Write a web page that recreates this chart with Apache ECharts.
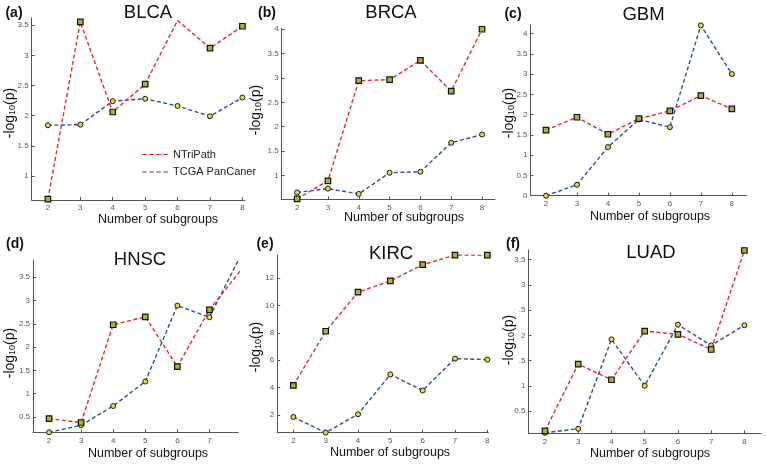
<!DOCTYPE html>
<html><head><meta charset="utf-8">
<script src="https://cdn.jsdelivr.net/npm/echarts@6/dist/echarts.min.js"></script>
<style>html,body{margin:0;padding:0;background:#fff}#c{width:766px;height:466px}</style>
</head><body><div id="c"></div>
<script>
// ---------- data ----------
const subgroups = [2, 3, 4, 5, 6, 7, 8];
const seriesNames = ['NTriPath', 'TCGA PanCaner'];
const panelNames = ['BLCA', 'BRCA', 'GBM', 'HNSC', 'KIRC', 'LUAD'];
const panelLetters = ['(a)', '(b)', '(c)', '(d)', '(e)', '(f)'];
const xAxisTitle = 'Number of subgroups';
const yAxisTitle = '-log{s|10}(p)';

const ntripathBLCA = [0.614, 3.555, 2.06, 2.523, 3.58, 3.119, 3.483];
const tcgaBLCA     = [1.84, 1.85, 2.24, 2.28, 2.16, 1.99, 2.30];
const ntripathBRCA = [0.52, 0.89, 2.945, 2.966, 3.36, 2.73, 4.0];
const tcgaBRCA     = [0.65, 0.73, 0.62, 1.055, 1.075, 1.67, 1.84];
const ntripathGBM  = [1.615, 1.935, 1.516, 1.9, 2.09, 2.47, 2.14];
const tcgaGBM      = [0.0, 0.27, 1.2, 1.88, 1.69, 4.2, 3.0];
const ntripathHNSC = [0.465, 0.38, 2.48, 2.65, 1.58, 2.8, 3.67];
const tcgaHNSC     = [0.17, 0.32, 0.735, 1.26, 2.89, 2.64, 4.0];
const ntripathKIRC = [4.16, 8.12, 10.98, 11.8, 12.99, 13.69, 13.69];
const tcgaKIRC     = [1.85, 0.71, 2.05, 4.96, 3.79, 6.12, 6.05];
const ntripathLUAD = [0.11, 1.43, 1.12, 2.085, 2.02, 1.72, 3.68];
const tcgaLUAD     = [0.07, 0.15, 1.92, 1.0, 2.21, 1.8, 2.2];

const xTicks      = [2, 3, 4, 5, 6, 7, 8];
const xTicksHNSC  = [2, 3, 4, 5, 6, 7];
const yTicksBLCA  = [1, 1.5, 2, 2.5, 3, 3.5];
const yTicksBRCA  = [1, 1.5, 2, 2.5, 3, 3.5, 4];
const yTicksGBM   = [0, 0.5, 1, 1.5, 2, 2.5, 3, 3.5, 4];
const yTicksHNSC  = [0.5, 1, 1.5, 2, 2.5, 3, 3.5];
const yTicksKIRC  = [2, 4, 6, 8, 10, 12];
const yTicksLUAD  = [0.5, 1, 1.5, 2, 2.5, 3, 3.5];
const yTickLabelsLUAD = ['0.5', '1', '.5', '2', '.5', '3', '3.5'];

// ---------- layout / axis ranges ----------
const panels = [
  {n: ntripathBLCA, t: tcgaBLCA, xt: xTicks, yt: yTicksBLCA, yl: null,
   grid: {left: 31.7, top: 18, width: 213.3, height: 182}, xr: [1.5, 8.08], yr: [0.60, 3.62],
   yName: [10, 113], xName: [158, 219.5], title: [148, 13], letter: [14, 13], hideN: [4]},
  {n: ntripathBRCA, t: tcgaBRCA, xt: xTicks, yt: yTicksBRCA, yl: null,
   grid: {left: 281.7, top: 28.3, width: 213.3, height: 171}, xr: [1.5, 8.42], yr: [0.51, 4.02],
   yName: [256, 110], xName: [404, 218], title: [391, 13], letter: [267, 13], hideN: []},
  {n: ntripathGBM, t: tcgaGBM, xt: xTicks, yt: yTicksGBM, yl: null,
   grid: {left: 530.5, top: 25, width: 216.2, height: 170.7}, xr: [1.5, 8.48], yr: [0, 4.21],
   yName: [509, 113], xName: [650, 216.5], title: [643.5, 15], letter: [513, 14], hideN: []},
  {n: ntripathHNSC, t: tcgaHNSC, xt: xTicksHNSC, yt: yTicksHNSC, yl: null,
   grid: {left: 33, top: 260, width: 205.3, height: 172.3}, xr: [1.5, 7.9], yr: [0.17, 3.87],
   yName: [10, 353], xName: [148, 453.5], title: [140, 260], letter: [15, 244], hideN: []},
  {n: ntripathKIRC, t: tcgaKIRC, xt: xTicks, yt: yTicksKIRC, yl: null,
   grid: {left: 277.2, top: 255, width: 211.1, height: 177.7}, xr: [1.5, 8.03], yr: [0.70, 13.7],
   yName: [256, 347], xName: [390, 453], title: [391, 254], letter: [265, 244], hideN: []},
  {n: ntripathLUAD, t: tcgaLUAD, xt: xTicks, yt: yTicksLUAD, yl: yTickLabelsLUAD,
   grid: {left: 528.4, top: 250, width: 232.6, height: 183.3}, xr: [1.5, 8.5], yr: [0.06, 3.69],
   yName: [509, 340], xName: [650, 453.5], title: [651, 253], letter: [513, 244], hideN: []}
];

const FONT = 'Liberation Sans, Arial, Helvetica, sans-serif';
const RED = '#e2282b', BLUE = '#2b4d9e';

const grid = [], xAxis = [], yAxis = [], series = [], graphic = [];
panels.forEach((p, i) => {
  grid.push(Object.assign({containLabel: false}, p.grid));
  xAxis.push({
    type: 'value', gridIndex: i, min: p.xr[0], max: p.xr[1],
    axisLine: {show: true, onZero: false, lineStyle: {color: '#555', width: 1}},
    axisTick: {show: true, inside: true, length: 3, lineStyle: {color: '#555'}, customValues: p.xt},
    axisLabel: {show: true, margin: 4, fontSize: 8, fontFamily: FONT, color: '#555', customValues: p.xt},
    splitLine: {show: false}
  });
  yAxis.push({
    type: 'value', gridIndex: i, min: p.yr[0], max: p.yr[1],
    axisLine: {show: true, onZero: false, lineStyle: {color: '#555', width: 1}},
    axisTick: {show: true, inside: true, length: 3, lineStyle: {color: '#555'}, customValues: p.yt},
    axisLabel: {show: true, margin: 3, fontSize: 8, fontFamily: FONT, color: '#555', customValues: p.yt,
      formatter: (v) => {
        if (!p.yl) return String(v);
        const k = p.yt.findIndex(t => Math.abs(t - v) < 1e-6);
        return k >= 0 ? p.yl[k] : String(v);
      }},
    splitLine: {show: false}
  });
  series.push({
    type: 'line', name: seriesNames[1], xAxisIndex: i, yAxisIndex: i,
    data: subgroups.map((x, k) => [x, p.t[k]]),
    symbol: 'circle', symbolSize: 5, clip: true, z: 2,
    lineStyle: {color: BLUE, width: 1.4, type: [4, 2.5]},
    itemStyle: {color: '#e4d84a', borderColor: '#1a1a1a', borderWidth: 1},
    emphasis: {disabled: true}
  });
  series.push({
    type: 'line', name: seriesNames[0], xAxisIndex: i, yAxisIndex: i,
    data: subgroups.map((x, k) => p.hideN.indexOf(k) >= 0 ? {value: [x, p.n[k]], symbol: 'none'} : [x, p.n[k]]),
    symbol: 'rect', symbolSize: 5.5, clip: true, z: 3,
    lineStyle: {color: RED, width: 1.4, type: [4, 2.5]},
    itemStyle: {color: '#a6b43c', borderColor: '#111', borderWidth: 1.2},
    emphasis: {disabled: true}
  });
  graphic.push({type: 'text', x: p.title[0], y: p.title[1],
    style: {text: panelNames[i], font: '18.5px ' + FONT, fill: '#111', align: 'center', verticalAlign: 'middle'}});
  graphic.push({type: 'text', x: p.letter[0], y: p.letter[1],
    style: {text: panelLetters[i], font: 'bold 14px ' + FONT, fill: '#111', align: 'center', verticalAlign: 'middle'}});
  graphic.push({type: 'text', x: p.xName[0], y: p.xName[1],
    style: {text: xAxisTitle, font: '12.5px ' + FONT, fill: '#111', align: 'center', verticalAlign: 'middle'}});
  graphic.push({type: 'text', x: p.yName[0], y: p.yName[1], rotation: Math.PI / 2,
    style: {text: yAxisTitle, fontFamily: FONT, fontSize: 14, fill: '#111', align: 'center', verticalAlign: 'middle',
      rich: {s: {fontFamily: FONT, fontSize: 9, fill: '#111', verticalAlign: 'bottom', padding: [6, 0, 0, 0]}}}});
});

const dashIcon = 'path://M0,0h5v1h-5z M7.5,0h5v1h-5z M15,0h5v1h-5z M22.5,0h5v1h-5z';
const option = {
  animation: false,
  backgroundColor: '#fff',
  grid, xAxis, yAxis, series, graphic,
  legend: {
    show: true, orient: 'vertical', left: 142, top: 149, padding: 0, itemGap: 6.5,
    itemWidth: 26, itemHeight: 2, icon: dashIcon, selectedMode: false,
    textStyle: {fontFamily: FONT, fontSize: 11, color: '#222'},
    data: [
      {name: seriesNames[0], itemStyle: {color: RED, borderColor: RED, borderWidth: 0}},
      {name: seriesNames[1], itemStyle: {color: BLUE, borderColor: BLUE, borderWidth: 0}}
    ]
  }
};
const chart = echarts.init(document.getElementById('c'), null, {renderer: 'canvas'});
chart.setOption(option);
</script></body></html>
